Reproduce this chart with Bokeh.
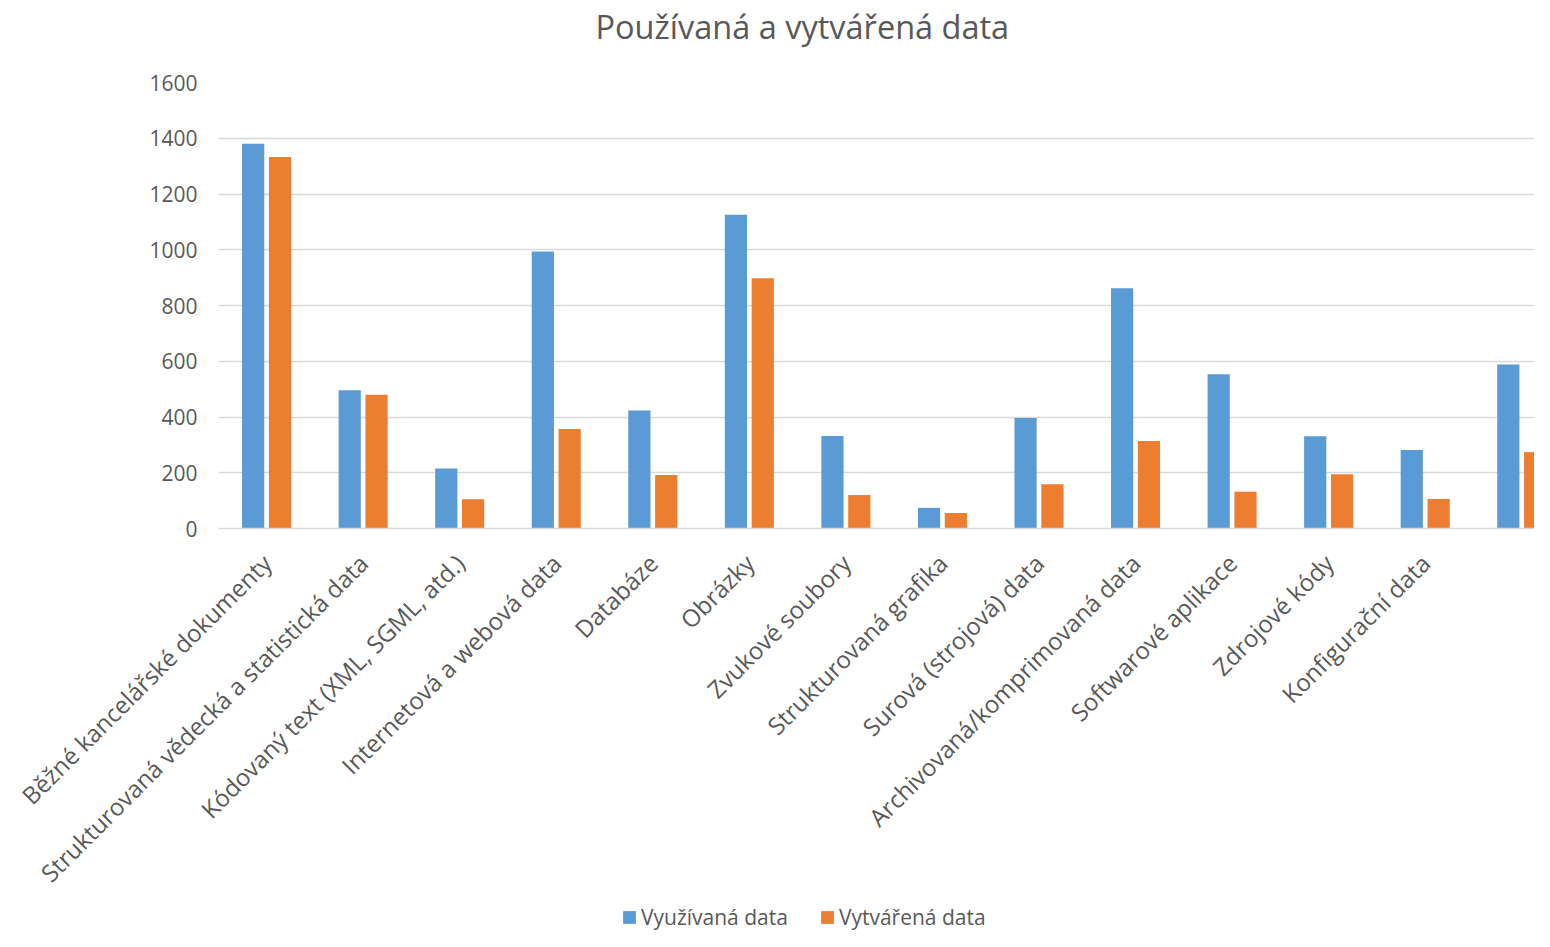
import math
from bokeh.plotting import figure
from bokeh.layouts import column
from bokeh.models import ColumnDataSource, Range1d, FixedTicker, Legend, LegendItem, Title
from bokeh.transform import dodge
from bokeh.embed import file_html
from bokeh.resources import INLINE

# ---- data ----
categories = [
    "Běžné kancelářské dokumenty",
    "Strukturovaná vědecká a statistická data",
    "Kódovaný text (XML, SGML, atd.)",
    "Internetová a webová data",
    "Databáze",
    "Obrázky",
    "Zvukové soubory",
    "Strukturovaná grafika",
    "Surová (strojová) data",
    "Archivovaná/komprimovaná data",
    "Softwarové aplikace",
    "Zdrojové kódy",
    "Konfigurační data",
    "",
]
vyuzivana = [1380, 496, 215, 994, 423, 1126, 332, 74, 396, 862, 553, 331, 282, 588]
vytvarena = [1333, 480, 105, 357, 192, 898, 120, 56, 159, 314, 132, 195, 106, 274]
y_ticks = [0, 200, 400, 600, 800, 1000, 1200, 1400, 1600]
series_names = ["Využívaná data", "Vytvářená data"]
title_text = "Používaná a vytvářená data"

# ---- styles ----
BLUE = "#5B9BD5"
ORANGE = "#ED7D31"
TEXT = "#595959"
GRID = "#d9d9d9"
FONT = "Open Sans"

x_pos = [i + 0.5 for i in range(len(categories))]
src = ColumnDataSource(dict(x=x_pos, a=vyuzivana, b=vytvarena))

p = figure(
    width=1534, height=903, title=None,
    x_range=Range1d(0, 13.63), y_range=Range1d(0, 1600),
    output_backend="svg", toolbar_location=None,
    min_border_left=218, min_border_right=0, min_border_top=82, min_border_bottom=375,
)
p.outline_line_color = None
p.background_fill_color = "white"
p.border_fill_color = "white"

bw = 0.23
r1 = p.vbar(x=dodge("x", -0.141, range=p.x_range), top="a", width=bw, bottom=0,
            source=src, fill_color=BLUE, line_color=None)
r2 = p.vbar(x=dodge("x", 0.137, range=p.x_range), top="b", width=bw, bottom=0,
            source=src, fill_color=ORANGE, line_color=None)

# y axis
yax = p.yaxis[0]
yax.ticker = FixedTicker(ticks=y_ticks)
yax.axis_line_color = None
yax.major_tick_line_color = None
yax.minor_tick_line_color = None
yax.major_tick_in = 0
yax.major_tick_out = 0
yax.major_label_standoff = 21
yax.major_label_text_font = FONT
yax.major_label_text_font_size = "21px"
yax.major_label_text_color = TEXT

# x axis
xax = p.xaxis[0]
xax.ticker = FixedTicker(ticks=x_pos)
xax.major_label_overrides = {x: c for x, c in zip(x_pos, categories)}
xax.major_label_orientation = math.pi / 4
xax.axis_line_color = GRID
xax.axis_line_width = 1.5
xax.major_tick_line_color = None
xax.minor_tick_line_color = None
xax.major_tick_in = 0
xax.major_tick_out = 0
xax.major_label_standoff = 30
xax.major_label_text_font = FONT
xax.major_label_text_font_size = "24px"
xax.major_label_text_color = TEXT

p.xgrid.grid_line_color = None
p.ygrid.ticker = FixedTicker(ticks=y_ticks)
p.ygrid.grid_line_color = GRID
p.ygrid.grid_line_width = 1.5

# spacer between frame and title, then the title itself (outermost)
p.add_layout(Title(text=" ", text_font_size="10px", standoff=19), "above")
p.add_layout(Title(text=title_text, align="left", offset=377, vertical_align="top",
                   standoff=0, text_font=FONT, text_font_size="32.5px",
                   text_font_style="normal", text_color=TEXT), "above")

# legend strip below the chart
lg = figure(
    width=1534, height=28, x_range=Range1d(0, 1316), y_range=Range1d(0, 28),
    output_backend="svg", toolbar_location=None, title=None,
    x_axis_location=None, y_axis_location=None,
    min_border_left=0, min_border_right=0, min_border_top=0, min_border_bottom=0,
)
lg.outline_line_color = None
lg.xgrid.visible = False
lg.ygrid.visible = False
k1 = lg.vbar(x="x", top="a", width=0.5, source=src, fill_color=BLUE, line_color=None, visible=False)
k2 = lg.vbar(x="x", top="b", width=0.5, source=src, fill_color=ORANGE, line_color=None, visible=False)

legend = Legend(
    items=[LegendItem(label=series_names[0], renderers=[k1]),
           LegendItem(label=series_names[1], renderers=[k2])],
    location=(403, 0), orientation="horizontal",
    glyph_width=16, glyph_height=16, label_standoff=4, spacing=31,
    padding=0, margin=0, border_line_color=None, background_fill_alpha=0,
    inactive_fill_alpha=0,
    label_text_font=FONT, label_text_font_size="21px", label_text_color=TEXT,
)
lg.add_layout(legend)

layout = column(p, lg, spacing=0)
open("out.html", "w").write(file_html(layout, INLINE))
